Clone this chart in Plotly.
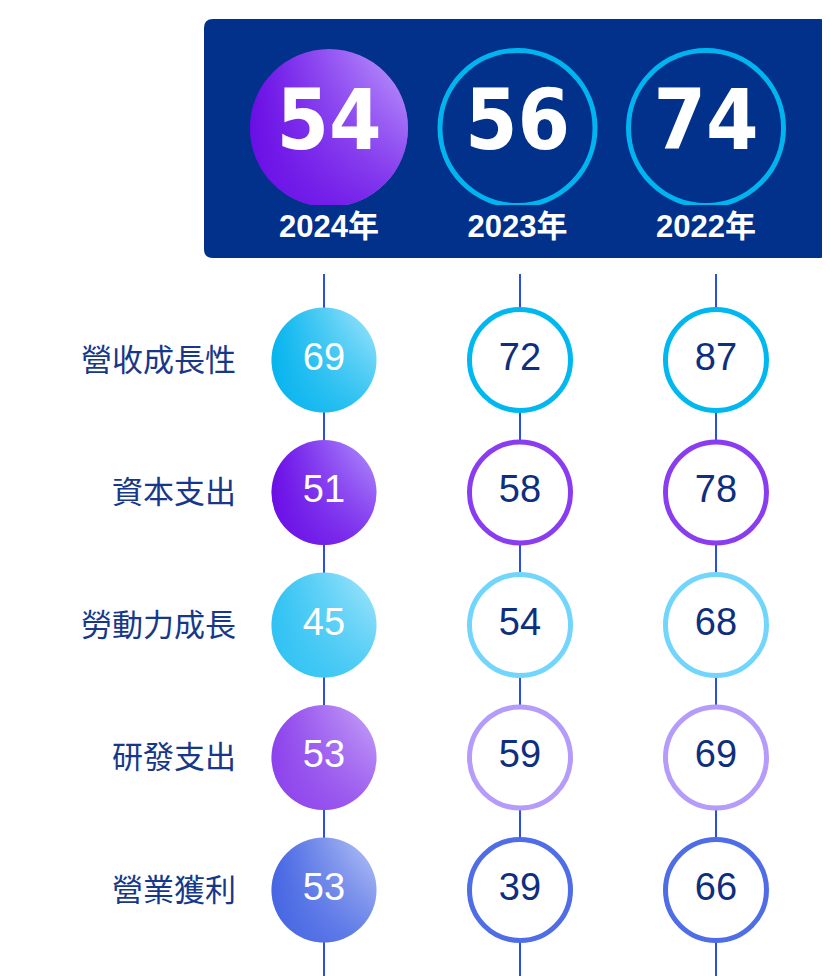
import plotly.graph_objects as go

# overall score per year (header) and sub-scores per metric
years = ["2024年", "2023年", "2022年"]
overall = [54, 56, 74]
metrics = ["營收成長性", "資本支出", "勞動力成長", "研發支出", "營業獲利"]
score_2024 = [69, 51, 45, 53, 53]
score_2023 = [72, 58, 54, 59, 39]
score_2022 = [87, 78, 68, 69, 66]

# page is 830x976 but the html body has an 8px margin
OFF = 8
W, H = 830 - OFF, 976 - OFF
NAVY = "#01318a"
LINE = "#2a4fe8"
TEXT = "#0e2f7e"

# per-row colours: (base, highlight, outline)
row_base = ["#06b4ee", "#6a0ee6", "#2fc2f3", "#8d42ec", "#4565e3"]
row_light = ["#a8e8fd", "#b596ff", "#a9e7fc", "#c8a8f8", "#bcc8f6"]
row_ring = ["#00b8f0", "#8a3cf0", "#72d5fb", "#b59cfb", "#4e6de6"]


def rgba(hex_col, a):
    h = hex_col.lstrip("#")
    return "rgba(%d,%d,%d,%s)" % (int(h[0:2], 16), int(h[2:4], 16), int(h[4:6], 16), a)


def fx(p):
    return p - OFF


def span(p0, p1, v0, v1, lo, hi):
    # axis range so that value v0 lands on page pixel p0 and v1 on p1
    p0, p1 = fx(p0), fx(p1)
    k = (p1 - p0) / (v1 - v0)
    return [v0 - (p0 - lo) / k, v0 + (hi - p0) / k]


X0 = fx(237)  # left edge of the body plot area (row labels sit left of it)
body_x = span(324, 716, 0, 2, X0, W)
top, bottom = span(360, 890, 0, 4, 0, H)
head_x = span(329, 706, 0, 2, 0, W)

fig = go.Figure()

# ---- body: 2024 filled circles (two layers for the diagonal sheen)
fig.add_trace(go.Scatter(
    x=[years[0]] * len(metrics), y=metrics, mode="markers",
    marker=dict(size=105, color=row_base, line=dict(width=0),
                gradient=dict(type="horizontal", color=row_light)),
    hoverinfo="skip", showlegend=False))
fig.add_trace(go.Scatter(
    x=[years[0]] * len(metrics), y=metrics, mode="markers+text",
    text=[str(v) for v in score_2024],
    textfont=dict(family="Liberation Sans, Arial, sans-serif", size=38, color="white"),
    marker=dict(size=105, color=[rgba(c, 0) for c in row_base], line=dict(width=0),
                gradient=dict(type="vertical", color=[rgba(c, 0.75) for c in row_base])),
    hoverinfo="skip", showlegend=False))

# ---- body: 2023 / 2022 outlined circles
for yr, vals in [(years[1], score_2023), (years[2], score_2022)]:
    fig.add_trace(go.Scatter(
        x=[yr] * len(metrics), y=metrics, mode="markers+text",
        text=[str(v) for v in vals],
        textfont=dict(family="Liberation Sans, Arial, sans-serif", size=38, color=TEXT),
        marker=dict(size=101, color="white", line=dict(width=5, color=row_ring)),
        hoverinfo="skip", showlegend=False))

# ---- header circles
fig.add_trace(go.Scatter(
    x=years[:1], y=[0], mode="markers", xaxis="x2", yaxis="y2",
    marker=dict(size=158, color="#6a0ee6", line=dict(width=0),
                gradient=dict(type="horizontal", color="#c2a2ff")),
    hoverinfo="skip", showlegend=False))
fig.add_trace(go.Scatter(
    x=years[:1], y=[0], mode="markers", xaxis="x2", yaxis="y2",
    marker=dict(size=158, color=rgba("#6a0ee6", 0), line=dict(width=0),
                gradient=dict(type="vertical", color=rgba("#6a0ee6", 0.8))),
    hoverinfo="skip", showlegend=False))
fig.add_trace(go.Scatter(
    x=years[1:], y=[0, 0], mode="markers", xaxis="x2", yaxis="y2",
    marker=dict(size=155, color=NAVY, line=dict(width=5, color="#00b5ef")),
    hoverinfo="skip", showlegend=False))
fig.add_trace(go.Scatter(
    x=years, y=[0, 0, 0], mode="text", xaxis="x2", yaxis="y2",
    text=[str(v) for v in overall],
    textfont=dict(family="Liberation Sans Narrow, DejaVu Sans Condensed, sans-serif",
                  size=84, color="white", weight="bold"),
    hoverinfo="skip", showlegend=False))

# header panel with rounded corners (paper coords)
bx0, bx1, by0, by1, r = 204, 829, 19, 258, 9


def px(p):
    return fx(p) / W


def py(p):
    return 1 - fx(p) / H


panel = (f"M {px(bx0 + r)},{py(by0)} L {px(bx1 - r)},{py(by0)} "
         f"Q {px(bx1)},{py(by0)} {px(bx1)},{py(by0 + r)} "
         f"L {px(bx1)},{py(by1 - r)} Q {px(bx1)},{py(by1)} {px(bx1 - r)},{py(by1)} "
         f"L {px(bx0 + r)},{py(by1)} Q {px(bx0)},{py(by1)} {px(bx0)},{py(by1 - r)} "
         f"L {px(bx0)},{py(by0 + r)} Q {px(bx0)},{py(by0)} {px(bx0 + r)},{py(by0)} Z")

shapes = [dict(type="path", path=panel, xref="paper", yref="paper",
               fillcolor=NAVY, line=dict(width=0), layer="below")]
for i in range(len(years)):
    shapes.append(dict(type="line", xref="x", yref="paper", x0=i, x1=i,
                       y0=0, y1=py(274), line=dict(color=LINE, width=2), layer="below"))

fig.update_layout(
    width=W, height=H,
    margin=dict(l=0, r=0, t=0, b=0),
    paper_bgcolor="white", plot_bgcolor="rgba(0,0,0,0)",
    shapes=shapes,
    xaxis=dict(domain=[X0 / W, 1], range=body_x, type="category",
               categoryorder="array", categoryarray=years,
               showticklabels=False, showgrid=False, zeroline=False, showline=False,
               fixedrange=True),
    yaxis=dict(domain=[0, 1], range=[bottom, top], type="category",
               categoryorder="array", categoryarray=metrics,
               showgrid=False, zeroline=False, showline=False, ticks="",
               tickfont=dict(family="Noto Sans CJK TC, sans-serif", size=31, color="#17388a"),
               fixedrange=True),
    xaxis2=dict(domain=[0, 1], range=head_x, type="category", anchor="y2",
                categoryorder="array", categoryarray=years,
                showgrid=False, zeroline=False, showline=False, ticks="",
                tickfont=dict(family="Liberation Sans, Arial, Noto Sans CJK TC, sans-serif",
                              size=31, color="white", weight="bold"),
                fixedrange=True),
    yaxis2=dict(domain=[py(205), py(19)], range=[-(205 - 128), 128 - 19], anchor="x2",
                showticklabels=False, showgrid=False, zeroline=False, showline=False,
                fixedrange=True),
)

fig.write_html("out.html")
